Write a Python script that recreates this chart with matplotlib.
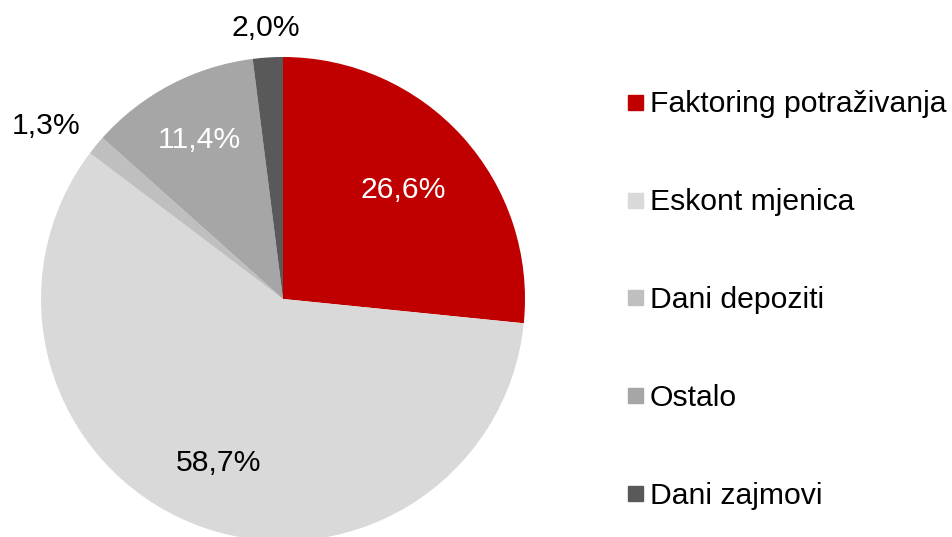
import matplotlib
matplotlib.use("Agg")
import matplotlib.pyplot as plt
import numpy as np
from matplotlib.lines import Line2D

plt.rcParams['font.family'] = ['Liberation Sans', 'DejaVu Sans']

categories = ["Faktoring potraživanja", "Eskont mjenica", "Dani depoziti", "Ostalo", "Dani zajmovi"]
shares = [26.6, 58.7, 1.3, 11.4, 2.0]
share_labels = ["26,6%", "58,7%", "1,3%", "11,4%", "2,0%"]
colors = ["#C00000", "#D9D9D9", "#BFBFBF", "#A6A6A6", "#595959"]
label_colors = ["white", "black", "black", "white", "black"]
label_radius = [0.67, 0.73, 1.21, 0.74, 1.12]
label_nudge_deg = [0.0, 0.0, 3.3, 0.0, 0.0]

W, H = 953, 537
fig = plt.figure(figsize=(W / 100, H / 100), dpi=100)

# pie centre at (283, 299) px, radius 242 px
cx, cy, R = 283, 299, 242
ax = fig.add_axes([(cx - R) / W, (H - cy - R) / H, 2 * R / W, 2 * R / H])
wedges, _ = ax.pie(shares, colors=colors, startangle=90, counterclock=False,
                   radius=1.0, wedgeprops=dict(linewidth=0))
ax.set_xlim(-1, 1)
ax.set_ylim(-1, 1)
ax.axis("off")

for w, txt, tc, r, nd in zip(wedges, share_labels, label_colors, label_radius, label_nudge_deg):
    ang = np.deg2rad((w.theta1 + w.theta2) / 2 + nd)
    ax.text(r * np.cos(ang), r * np.sin(ang), txt, ha="center", va="center",
            fontsize=21.7, color=tc)

handles = [Line2D([], [], marker="s", linestyle="none", markersize=10.8,
                  markerfacecolor=c, markeredgecolor=c) for c in colors]
fig.legend(handles, categories, loc="center left",
           bbox_to_anchor=(626 / W, 1 - 300 / H), frameon=False,
           fontsize=21.7, labelspacing=2.32, handlelength=0.6,
           handletextpad=0.2, borderpad=0, borderaxespad=0)

fig.savefig("out.png", dpi=100, facecolor="white")
